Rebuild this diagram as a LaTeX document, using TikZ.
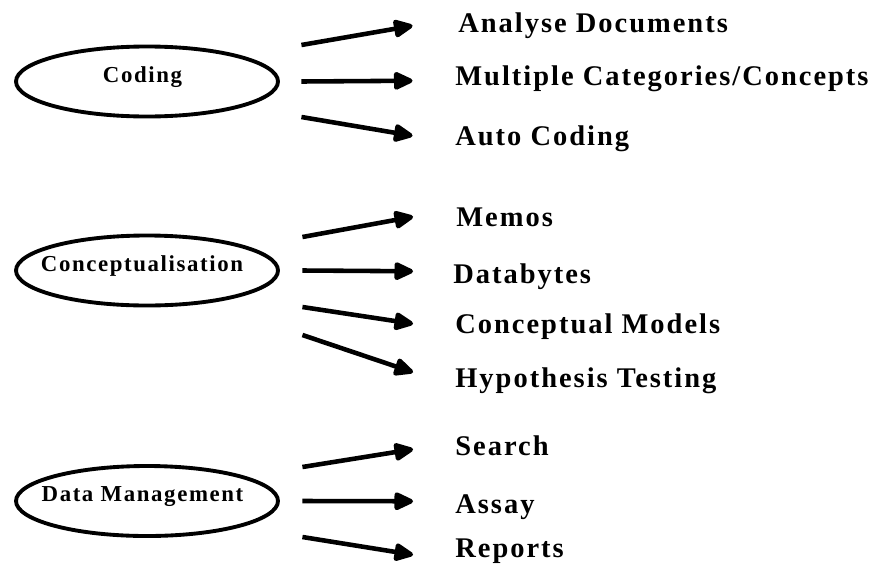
\documentclass[tikz,border=0pt]{standalone}
\usepackage{fontspec}
\setmainfont{Liberation Serif}
\newfontfamily\spacedfont{Liberation Serif}[LetterSpace=7]
\usetikzlibrary{shapes.geometric,arrows.meta}

\begin{document}
\begin{tikzpicture}[blob/.style={ellipse, draw, line width=2.2pt, minimum width=5.24cm, minimum height=1.4cm},
    tag/.style={inner sep=0pt, text height=0.3cm, text depth=0pt, font=\spacedfont\bfseries\fontsize{13}{15}\selectfont},
    item/.style={anchor=base west, inner sep=0pt, text height=0.37cm, text depth=0pt, font=\spacedfont\bfseries\fontsize{16.2}{19}\selectfont},
    arr/.style={line width=2.6pt, -{Triangle[length=0.44cm, width=0.38cm, round]}}]
    \useasboundingbox (0, 0) rectangle (17.42, -11.46);

    \node at (2.94, -1.63) [blob] (cod) {};
    \node at ([xshift=-0.09cm, yshift=0.14cm]cod.center) [tag] (codt) {Coding};
    \node at (2.94, -5.41) [blob] (con) {};
    \node at ([xshift=-0.1cm, yshift=0.13cm]con.center) [tag] (cont) {Conceptualisation};
    \node at (2.94, -10.02) [blob] (dat) {};
    \node at ([xshift=-0.09cm, yshift=0.14cm]dat.center) [tag] (datt) {Data Management};

    \node at (9.16, -0.64) [item] (ana) {Analyse Documents};
    \node at (9.10, -1.70) [item] (mul) {Multiple Categories/Concepts};
    \node at (9.10, -2.90) [item] (aut) {Auto Coding};

    \node at (9.12, -4.52) [item] (mem) {Memos};
    \node at (9.06, -5.66) [item] (dby) {Databytes};
    \node at (9.10, -6.66) [item] (cmd) {Conceptual Models};
    \node at (9.10, -7.74) [item] (hyp) {Hypothesis Testing};

    \node at (9.10, -9.10) [item] (sea) {Search};
    \node at (9.10, -10.26) [item] (asy) {Assay};
    \node at (9.10, -11.14) [item] (rep) {Reports};

    \draw[arr] ([xshift=0.43cm, yshift=0.73cm]cod.east) -- ([xshift=-0.91cm, yshift=-0.06cm]ana.west);
    \draw[arr] ([xshift=0.43cm]cod.east) -- ([xshift=-0.85cm, yshift=-0.1cm]mul.west);
    \draw[arr] ([xshift=0.43cm, yshift=-0.71cm]cod.east) -- ([xshift=-0.85cm]aut.west);

    \draw[arr] ([xshift=0.45cm, yshift=0.67cm]con.east) -- ([xshift=-0.86cm]mem.west);
    \draw[arr] ([xshift=0.45cm]con.east) -- ([xshift=-0.8cm, yshift=0.05cm]dby.west);
    \draw[arr] ([xshift=0.45cm, yshift=-0.73cm]con.east) -- ([xshift=-0.84cm]cmd.west);
    \draw[arr] ([xshift=0.45cm, yshift=-1.29cm]con.east) -- ([xshift=-0.84cm, yshift=0.11cm]hyp.west);

    \draw[arr] ([xshift=0.45cm, yshift=0.68cm]dat.east) -- ([xshift=-0.84cm, yshift=-0.07cm]sea.west);
    \draw[arr] ([xshift=0.45cm]dat.east) -- ([xshift=-0.84cm, yshift=0.05cm]asy.west);
    \draw[arr] ([xshift=0.45cm, yshift=-0.72cm]dat.east) -- ([xshift=-0.84cm, yshift=-0.14cm]rep.west);
\end{tikzpicture}
\end{document}
